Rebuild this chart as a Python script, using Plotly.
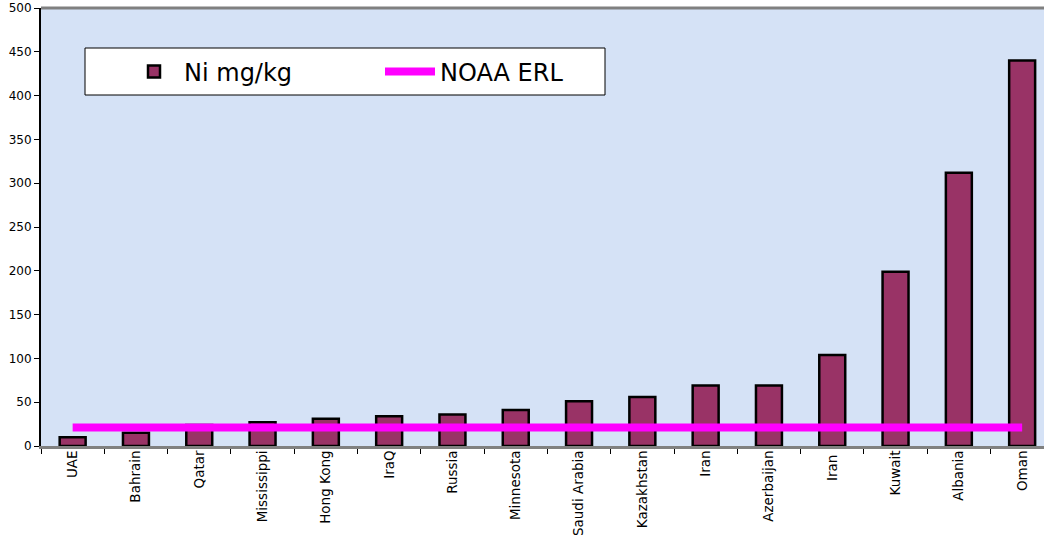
import plotly.graph_objects as go

categories = ["UAE", "Bahrain", "Qatar", "Mississippi", "Hong Kong", "IraQ", "Russia",
              "Minnesota", "Saudi Arabia", "Kazakhstan", "Iran", "Azerbaijan", "Iran ",
              "Kuwait", "Albania", "Oman"]
ni_values = [10, 15, 24, 27, 31, 34, 36, 41, 51, 56, 69, 69, 104, 199, 312, 440]
erl_value = 21
erl_values = [erl_value] * len(categories)
y_ticks = [0, 50, 100, 150, 200, 250, 300, 350, 400, 450, 500]

W, H = 1044, 540
ml, mr, mt, mb = 41, 0, 8, 94
pw = W - ml - mr
ph = H - mt - mb


def px_x(page_x):
    return (page_x - ml) / pw


def px_y(page_y):
    return 1 - (page_y - mt) / ph


fig = go.Figure()
fig.add_trace(go.Bar(
    x=categories, y=ni_values, name="Ni mg/kg",
    marker=dict(color="#993366", line=dict(color="black", width=2.5)),
    width=0.41,
))
fig.add_trace(go.Scatter(
    x=categories, y=erl_values, name="NOAA ERL", mode="lines",
    line=dict(color="#ff00ff", width=8),
))

# legend box
fig.add_shape(type="rect", xref="paper", yref="paper",
              x0=px_x(85), x1=px_x(605), y0=px_y(95), y1=px_y(48),
              fillcolor="white", line=dict(color="black", width=1), layer="below")

fig.update_layout(
    width=W, height=H,
    margin=dict(l=ml, r=mr, t=mt, b=mb, autoexpand=False),
    paper_bgcolor="white",
    plot_bgcolor="#d5e2f6",
    font=dict(family="DejaVu Sans, sans-serif", color="black"),
    showlegend=True,
    legend=dict(
        orientation="h",
        x=px_x(124), xanchor="left",
        y=px_y(72), yanchor="middle",
        bgcolor="rgba(0,0,0,0)", borderwidth=0,
        font=dict(size=24, family="DejaVu Sans, sans-serif"),
        entrywidth=191,
        itemwidth=50,
    ),
    bargap=0.59,
)
fig.update_xaxes(
    type="category",
    automargin=False,
    range=[-0.5, -0.5 + pw / 63.3],
    tickson="boundaries",
    ticks="outside", ticklen=5, tickcolor="black",
    tickangle=-90,
    ticklabelstandoff=-4,
    tickfont=dict(size=13.5),
    showline=True, linecolor="#808080", linewidth=3,
    showgrid=False,
    mirror=False,
)
fig.update_yaxes(
    automargin=False,
    range=[0, 500],
    tickvals=y_ticks,
    ticks="outside", ticklen=5, tickcolor="black",
    tickfont=dict(size=12),
    showline=True, linecolor="black", linewidth=2,
    showgrid=False, zeroline=False,
)
# top border of plot area
fig.add_shape(type="line", xref="paper", yref="paper", x0=0, x1=1, y0=1, y1=1,
              line=dict(color="#808080", width=3))

fig.write_html(
    "out.html",
    config={"displayModeBar": False},
    post_script="document.body.style.margin='0';document.body.style.padding='0';",
)
